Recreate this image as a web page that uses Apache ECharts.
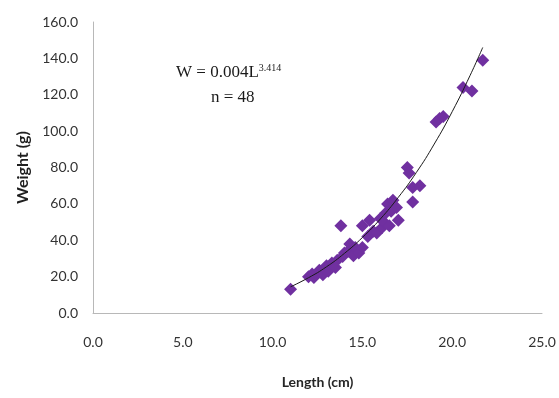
<!DOCTYPE html>
<html>
<head>
<meta charset="utf-8">
<script src="https://cdn.jsdelivr.net/npm/echarts@6/dist/echarts.min.js"></script>
<style>
  html, body { margin: 0; padding: 0; background: #fff; }
  #chart { width: 559px; height: 398px; }
</style>
</head>
<body>
<div id="chart"></div>
<script>
// observed fish length (cm) and weight (g), n = 48
const lengths = [
  11.0, 12.0, 12.2, 12.3, 12.5, 12.6, 12.8, 12.9, 13.0, 13.1,
  13.3, 13.5, 13.6, 13.8, 13.9, 14.0, 14.2, 14.3, 14.5, 14.6,
  14.8, 15.0, 15.0, 15.3, 15.4, 15.6, 15.8, 16.0, 16.1, 16.2,
  16.3, 16.4, 16.5, 16.6, 16.7, 16.9, 17.0, 17.5, 17.6, 17.8,
  17.8, 18.2, 19.1, 19.3, 19.5, 20.6, 21.1, 21.7
];
const weights = [
  13.0, 20.0, 21.5, 19.5, 22.0, 23.5, 21.0, 24.5, 26.0, 23.0,
  27.5, 25.0, 29.0, 48.0, 31.0, 33.0, 34.0, 38.0, 31.5, 36.0,
  33.0, 36.0, 48.0, 42.0, 51.0, 45.0, 44.0, 52.0, 47.0, 50.0,
  55.0, 60.0, 48.0, 56.0, 62.0, 58.0, 51.0, 80.0, 77.0, 69.0,
  61.0, 70.0, 105.0, 107.0, 108.0, 124.0, 122.0, 139.0
];

// power trend line
const trendL = [11.0, 12.0, 13.0, 14.0, 15.0, 16.0, 17.0, 18.0, 19.0, 20.0, 21.0, 21.7];
const trendW = [14.4, 19.4, 25.4, 32.8, 41.5, 51.7, 63.6, 77.2, 92.9, 110.7, 130.7, 146.0];

const xTicks = [0, 5, 10, 15, 20, 25];
const yTicks = [0, 20, 40, 60, 80, 100, 120, 140, 160];

const chart = echarts.init(document.getElementById('chart'));

const labelFont = 'Lato, "Open Sans", sans-serif';

const option = {
  animation: false,
  backgroundColor: '#ffffff',
  grid: {
    left: 93,
    right: 17,
    top: 22,
    bottom: 85,
  },
  xAxis: {
    type: 'value',
    min: xTicks[0],
    max: xTicks[xTicks.length - 1],
    interval: 5,
    name: 'Length (cm)',
    nameLocation: 'middle',
    nameGap: 62,
    nameTextStyle: {
      fontFamily: labelFont,
      fontSize: 14,
      fontWeight: 'bold',
      color: '#262626',
    },
    axisLine: { show: true, lineStyle: { color: '#b8b8b8', width: 1 } },
    axisTick: { show: false },
    splitLine: { show: false },
    axisLabel: {
      margin: 22,
      fontFamily: labelFont,
      fontSize: 14,
      color: '#333333',
      formatter: (v) => v.toFixed(1),
    },
  },
  yAxis: {
    type: 'value',
    min: yTicks[0],
    max: yTicks[yTicks.length - 1],
    interval: 20,
    name: 'Weight (g)',
    nameLocation: 'middle',
    nameGap: 58,
    nameRotate: 90,
    nameTextStyle: {
      fontFamily: labelFont,
      fontSize: 16,
      fontWeight: 'bold',
      color: '#1f1f1f',
    },
    axisLine: { show: true, lineStyle: { color: '#b8b8b8', width: 1 } },
    axisTick: { show: false },
    splitLine: { show: false },
    axisLabel: {
      margin: 15,
      fontFamily: labelFont,
      fontSize: 14,
      color: '#333333',
      formatter: (v) => v.toFixed(1),
    },
  },
  series: [
    {
      name: 'Observed',
      type: 'scatter',
      symbol: 'diamond',
      symbolSize: 13,
      itemStyle: { color: '#7030a0', opacity: 1 },
      data: lengths.map((l, i) => [l, weights[i]]),
      z: 2,
    },
    {
      name: 'Power trend',
      type: 'line',
      smooth: true,
      showSymbol: false,
      symbol: 'none',
      lineStyle: { color: '#1a1a1a', width: 1 },
      data: trendL.map((l, i) => [l, trendW[i]]),
      z: 3,
    },
  ],
  graphic: [
    {
      type: 'text',
      left: 176,
      top: 63,
      style: {
        text: '{m|W = 0.004L}{s|3.414}',
        rich: {
          m: {
            fontFamily: '"Liberation Serif", "DejaVu Serif", serif',
            fontSize: 17,
            fill: '#1a1a1a',
            verticalAlign: 'bottom',
          },
          s: {
            fontFamily: '"Liberation Serif", "DejaVu Serif", serif',
            fontSize: 10,
            fill: '#1a1a1a',
            verticalAlign: 'top',
            padding: [0, 0, 8, 0],
          },
        },
      },
    },
    {
      type: 'text',
      left: 211,
      top: 89,
      style: {
        text: 'n = 48',
        fontFamily: '"Liberation Serif", "DejaVu Serif", serif',
        fontSize: 17,
        fill: '#1a1a1a',
      },
    },
  ],
};

chart.setOption(option);
</script>
</body>
</html>
